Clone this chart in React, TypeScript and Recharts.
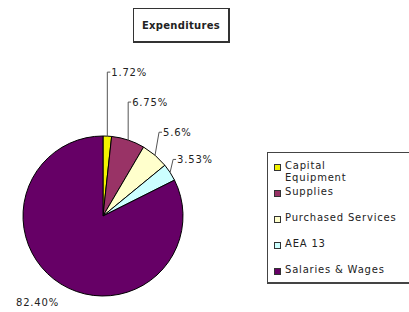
import React from 'react';
import { PieChart, Pie, Cell } from 'recharts';

const categories = ['Capital Equipment', 'Supplies', 'Purchased Services', 'AEA 13', 'Salaries & Wages'];
const percents = [1.72, 6.75, 5.6, 3.53, 82.4];
const labels = ['1.72%', '6.75%', '5.6%', '3.53%', '82.40%'];
const colors = ['#f2f200', '#993366', '#ffffcc', '#ccffff', '#660066'];

const data = categories.map((name, i) => ({ name, value: percents[i], label: labels[i] }));

const FONT = '"DejaVu Sans", sans-serif';

// leader line rise / shift for each slice label
const rise = [-64, -38, -23, -13];
const shift = [0, 0, 4, 3];

const RADIAN = Math.PI / 180;

function renderLabel(props: any) {
  const { cx, cy, midAngle, outerRadius, index } = props;
  const ex = cx + outerRadius * Math.cos(-midAngle * RADIAN);
  const ey = cy + outerRadius * Math.sin(-midAngle * RADIAN);
  const text = labels[index];
  if (index >= rise.length) {
    return (
      <text x={ex - 2} y={ey + 22} textAnchor="end" fontSize={10} fontFamily={FONT} letterSpacing={0.8} fill="#222">
        {text}
      </text>
    );
  }
  const lx = ex + shift[index];
  const ly = ey + rise[index];
  return (
    <g>
      <polyline points={`${ex},${ey} ${lx},${ly} ${lx + 3},${ly}`} fill="none" stroke="#555" strokeWidth={1} />
      <text x={lx + 4} y={ly + 4} fontSize={10} fontFamily={FONT} letterSpacing={0.8} fill="#222">
        {text}
      </text>
    </g>
  );
}

function LegendBox() {
  return (
    <div
      style={{
        position: 'absolute',
        left: 267,
        top: 152,
        width: 160,
        height: 132,
        border: '1px solid #444',
        borderRightWidth: 2,
        borderBottomWidth: 2,
        background: '#fff',
        fontFamily: FONT,
        fontSize: 10,
        letterSpacing: 0.8,
        color: '#222',
        boxSizing: 'border-box',
      }}
    >
      {categories.map((name, i) => (
        <div key={name} style={{ position: 'absolute', left: 6, top: 7 + i * 26, height: 14, display: 'flex', alignItems: 'flex-start' }}>
          <span
            style={{
              display: 'inline-block',
              width: 5,
              height: 5,
              marginTop: 4,
              marginRight: 4,
              background: colors[i],
              border: '1px solid #333',
            }}
          />
          <span style={{ lineHeight: '12px', maxWidth: i === 0 ? 70 : 140, whiteSpace: i === 0 ? 'normal' : 'nowrap' }}>{name}</span>
        </div>
      ))}
    </div>
  );
}

export default function App() {
  return (
    <div style={{ position: 'absolute', left: 0, top: 0, width: 409, height: 312, background: '#fff', overflow: 'hidden' }}>
      <PieChart width={409} height={312} margin={{ top: 0, right: 0, bottom: 0, left: 0 }}>
        <Pie
          data={data}
          dataKey="value"
          nameKey="name"
          cx={103}
          cy={216}
          outerRadius={80}
          startAngle={90}
          endAngle={-270}
          stroke="#000"
          strokeWidth={1}
          label={renderLabel}
          labelLine={false}
          isAnimationActive={false}
        >
          {data.map((d, i) => (
            <Cell key={d.name} fill={colors[i]} />
          ))}
        </Pie>
      </PieChart>
      <div
        style={{
          position: 'absolute',
          left: 133,
          top: 8,
          width: 97,
          height: 35,
          border: '1px solid #333',
          borderRightWidth: 2,
          borderBottomWidth: 2,
          boxSizing: 'border-box',
          display: 'flex',
          alignItems: 'center',
          justifyContent: 'center',
          fontFamily: FONT,
          fontSize: 10,
          fontWeight: 'bold',
          letterSpacing: 0.3,
          color: '#222',
        }}
      >
        Expenditures
      </div>
      <LegendBox />
    </div>
  );
}
